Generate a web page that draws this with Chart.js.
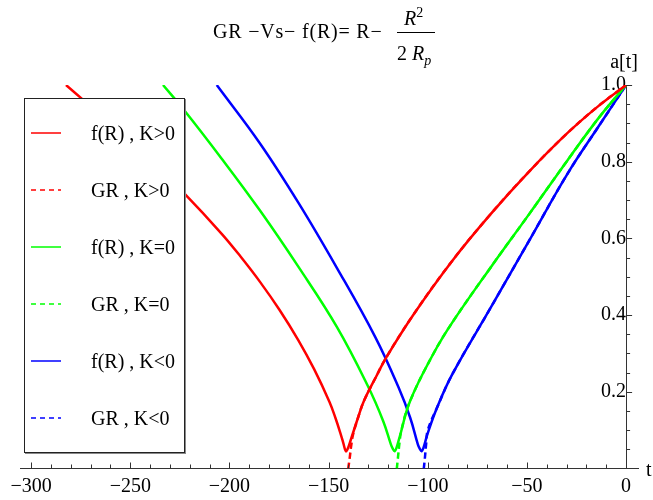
<!DOCTYPE html>
<html lang="en">
<head>
    <meta charset="UTF-8">
    <title>GR Vs f(R)</title>
    <style>
        body {
            margin: 0;
            background: #fff;
            font-family: "Liberation Serif", "DejaVu Serif", serif;
        }
        #wrap {
            position: relative;
            width: 653px;
            height: 500px;
        }
        canvas {
            position: absolute;
            left: 0;
            top: 0;
        }
        .txt {
            position: absolute;
            font-size: 20px;
            line-height: 20px;
            color: #000;
            white-space: nowrap;
        }
        #fracBar {
            position: absolute;
            left: 397px;
            top: 32px;
            width: 38px;
            height: 1px;
            background: #000;
        }
        #legend {
            position: absolute;
            left: 24px;
            top: 98px;
            width: 159px;
            height: 353px;
            background: #fff;
            border: 1px solid #222;
            box-shadow: 1px 1px 0 #888;
        }
        .item {
            position: absolute;
            left: 0;
            width: 159px;
            height: 20px;
        }
        .item svg {
            position: absolute;
            left: 6px;
            top: 8px;
        }
        .item span {
            position: absolute;
            left: 66px;
            top: 0;
            font-size: 20px;
            line-height: 20px;
            white-space: nowrap;
        }
    </style>
    <script src="https://cdn.jsdelivr.net/npm/chart.js"></script>
</head>
<body>
    <div id="wrap">
        <canvas id="chart" width="653" height="500"></canvas>
        <div class="txt" style="left:213px; top:21px; letter-spacing:0.8px;">GR &minus;Vs&minus; f(R)= R&minus;</div>
        <div class="txt" style="left:404px; top:8px;"><i>R</i><span style="font-size:14px; position:relative; top:-8px;">2</span></div>
        <div id="fracBar"></div>
        <div class="txt" style="left:397px; top:43px;">2 <i>R</i><i style="font-size:14px; position:relative; top:5px;">p</i></div>
        <div id="legend"></div>
    </div>

    <script>
        // series labels
        const seriesNames = ['f(R) , K>0', 'GR , K>0', 'f(R) , K=0', 'GR , K=0', 'f(R) , K<0', 'GR , K<0'];

        // f(R), K>0 (red solid)
        const redFRt = [-282.4, -261.3, -241.3, -222.9, -203.9, -194.3, -184.5, -174.8, -165.3, -157.3, -149.6, -146.5, -143.8, -142.5, -141.3, -140.1, -138.8, -135, -132.2, -126, -120.9, -107, -87.6, -68.2, -48.8, -29.5, -14, 0];
        const redFRa = [1.0, 0.905, 0.812, 0.718, 0.612, 0.552, 0.486, 0.414, 0.335, 0.259, 0.174, 0.131, 0.088, 0.065, 0.045, 0.055, 0.075, 0.135, 0.176, 0.24, 0.29, 0.403, 0.542, 0.664, 0.775, 0.875, 0.945, 1.0];
        // GR, K>0 (red dashed)
        const redGRt = [-140.1, -139.3, -138.6, -137.6, -135, -132.2, -126, -120.9, -107, -87.6, -68.2, -48.8, -29.5, -14, 0];
        const redGRa = [0, 0.03, 0.06, 0.09, 0.135, 0.176, 0.24, 0.29, 0.403, 0.542, 0.664, 0.775, 0.875, 0.945, 1.0];

        // f(R), K=0 (green solid)
        const greenFRt = [-233.5, -222.9, -203.9, -184.5, -165.1, -145.7, -130.2, -122.5, -118.6, -117.6, -116.7, -115.7, -114.3, -108.9, -97.3, -87.6, -68.2, -48.8, -29.5, -14, 0];
        const greenFRa = [1.0, 0.935, 0.808, 0.672, 0.525, 0.368, 0.215, 0.124, 0.063, 0.051, 0.045, 0.055, 0.08, 0.176, 0.298, 0.381, 0.525, 0.664, 0.804, 0.913, 1.0];
        // GR, K=0 (green dashed)
        const greenGRt = [-115.6, -115, -114.3, -113.3, -108.9, -97.3, -87.6, -68.2, -48.8, -29.5, -14, 0];
        const greenGRa = [0, 0.03, 0.065, 0.1, 0.176, 0.298, 0.381, 0.525, 0.664, 0.804, 0.913, 1.0];

        // f(R), K<0 (blue solid)
        const blueFRt = [-206.4, -184.5, -165.1, -145.7, -126.4, -114.7, -108.9, -105, -104, -103.1, -102.1, -100.2, -95.3, -87.6, -68.2, -48.8, -29.5, -14, 0];
        const blueFRa = [1.0, 0.847, 0.692, 0.522, 0.342, 0.211, 0.133, 0.063, 0.051, 0.045, 0.055, 0.089, 0.159, 0.246, 0.42, 0.595, 0.769, 0.891, 1.0];
        // GR, K<0 (blue dashed)
        const blueGRt = [-102, -101.4, -100.8, -100, -95.3, -87.6, -68.2, -48.8, -29.5, -14, 0];
        const blueGRa = [0, 0.03, 0.065, 0.1, 0.159, 0.246, 0.42, 0.595, 0.769, 0.891, 1.0];

        // axis ticks
        const xTicks = [-300, -250, -200, -150, -100, -50, 0];
        const yTicks = [0.2, 0.4, 0.6, 0.8, 1.0];

        const toPoints = (ts, as) => ts.map((t, i) => ({ x: t, y: as[i] }));

        function makeSet(name, ts, as, color, dashed) {
            return {
                label: name,
                data: toPoints(ts, as),
                borderColor: color,
                backgroundColor: color,
                borderWidth: 2.5,
                borderDash: dashed ? [6, 4] : [],
                pointRadius: 0,
                fill: false,
                tension: 0.4
            };
        }

        const datasets = [
            makeSet(seriesNames[0], redFRt, redFRa, '#ff0000', false),
            makeSet(seriesNames[1], redGRt, redGRa, '#ff0000', true),
            makeSet(seriesNames[2], greenFRt, greenFRa, '#00ff00', false),
            makeSet(seriesNames[3], greenGRt, greenGRa, '#00ff00', true),
            makeSet(seriesNames[4], blueFRt, blueFRa, '#0000ff', false),
            makeSet(seriesNames[5], blueGRt, blueGRa, '#0000ff', true)
        ];

        const tickFont = { family: '"Liberation Serif"', size: 20 };

        // minor/major tick marks on the inner side and the axis names
        const axisDecor = {
            id: 'axisDecor',
            afterDraw(chart) {
                const { ctx, scales: { x, y } } = chart;
                const x0 = x.getPixelForValue(0);
                const y0 = y.getPixelForValue(0);
                ctx.save();
                ctx.strokeStyle = '#333';
                ctx.lineWidth = 1;
                ctx.beginPath();
                for (let v = -300; v <= 0; v += 10) {
                    const px = Math.round(x.getPixelForValue(v)) + 0.5;
                    const len = v % 50 === 0 ? 6 : 4;
                    ctx.moveTo(px, y0);
                    ctx.lineTo(px, y0 - len);
                }
                for (let k = 1; k <= 20; k++) {
                    const py = Math.round(y.getPixelForValue(k * 0.05)) + 0.5;
                    const len = k % 4 === 0 ? 6 : 4;
                    ctx.moveTo(x0, py);
                    ctx.lineTo(x0 + len, py);
                }
                ctx.stroke();
                ctx.fillStyle = '#000';
                ctx.font = '20px "Liberation Serif"';
                ctx.textAlign = 'left';
                ctx.fillText('t', x.right + 8, y0 + 7);
                ctx.textAlign = 'center';
                ctx.fillText('a[t]', x0 - 2, y.top - 17);
                ctx.restore();
            }
        };

        const chart = new Chart(document.getElementById('chart'), {
            type: 'line',
            data: { datasets: datasets },
            options: {
                responsive: false,
                animation: false,
                layout: { padding: { left: 20, right: 15, top: 85, bottom: 31.5 } },
                plugins: {
                    legend: { display: false },
                    tooltip: { enabled: false }
                },
                scales: {
                    x: {
                        type: 'linear',
                        min: -305.6,
                        max: 6,
                        position: { y: 0 },
                        grid: { display: false, drawTicks: false },
                        border: { display: true, color: '#333', width: 1 },
                        afterBuildTicks: axis => { axis.ticks = xTicks.map(v => ({ value: v })); },
                        ticks: {
                            color: '#000',
                            font: tickFont,
                            padding: 6,
                            maxRotation: 0,
                            callback: v => v < 0 ? '\u2212' + Math.abs(v) : String(v)
                        }
                    },
                    y: {
                        type: 'linear',
                        min: 0,
                        max: 1,
                        position: { x: 0 },
                        grid: { display: false, drawTicks: false },
                        border: { display: true, color: '#333', width: 1 },
                        afterBuildTicks: axis => { axis.ticks = yTicks.map(v => ({ value: v })); },
                        ticks: {
                            color: '#000',
                            font: tickFont,
                            padding: 6,
                            callback: v => v.toFixed(1)
                        }
                    }
                }
            },
            plugins: [axisDecor]
        });

        // legend box built from the chart's datasets
        const legend = document.getElementById('legend');
        chart.data.datasets.forEach((ds, i) => {
            const row = document.createElement('div');
            row.className = 'item';
            row.style.top = (24 + i * 57) + 'px';
            const dash = ds.borderDash.length ? 'stroke-dasharray="5 4"' : '';
            row.innerHTML = '<svg width="30" height="4"><line x1="0" y1="2" x2="30" y2="2" stroke="' +
                ds.borderColor + '" stroke-width="1.5" ' + dash + '/></svg><span>' +
                ds.label.replace(/</g, '&lt;').replace(/>/g, '&gt;') + '</span>';
            legend.appendChild(row);
        });
    </script>
</body>
</html>
